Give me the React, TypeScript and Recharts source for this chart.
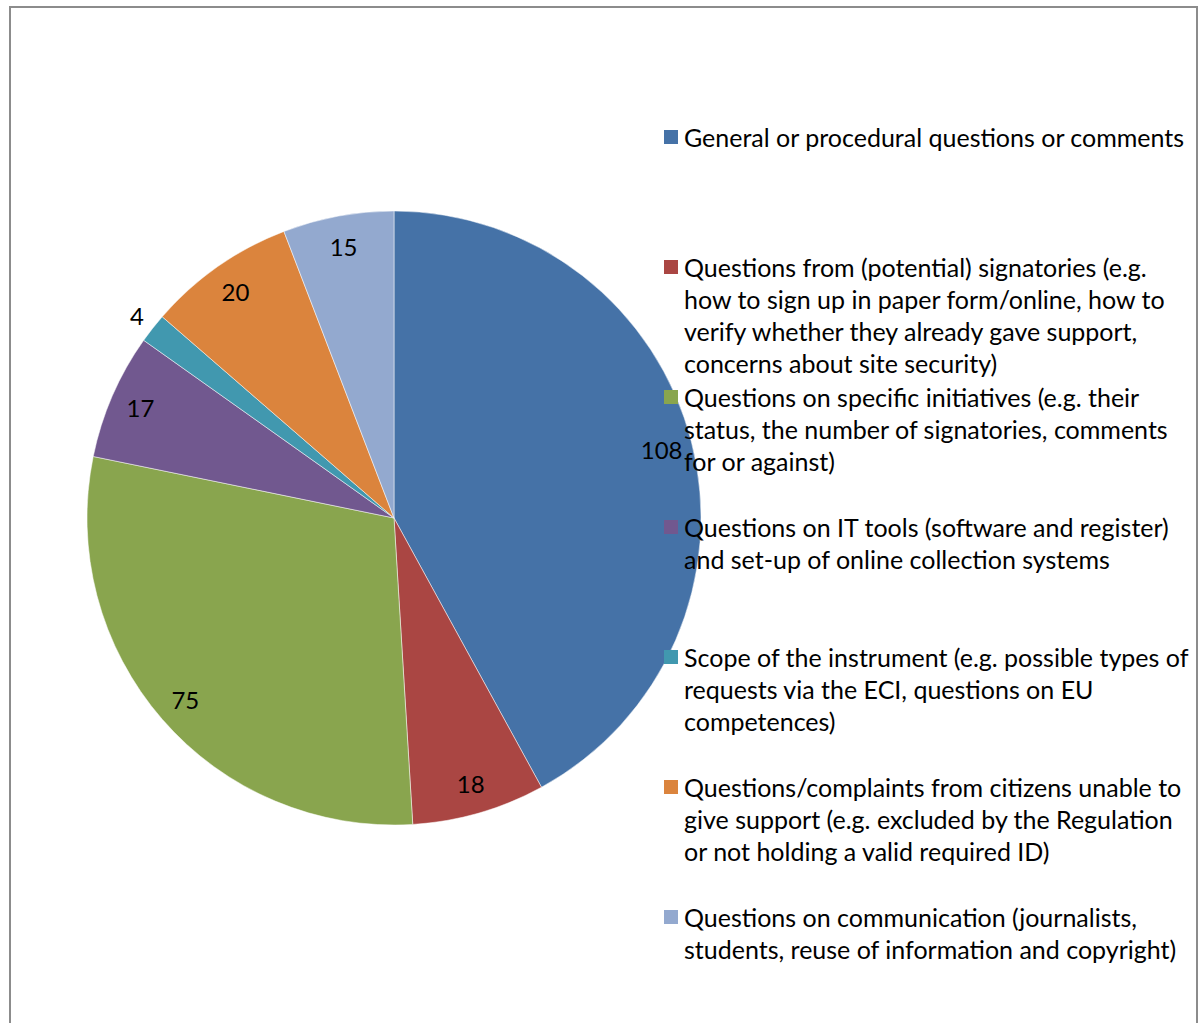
import React from "react"
import { PieChart, Pie, Cell, Legend } from "recharts"

const categories = [
    ["General or procedural questions or comments"],
    [
        "Questions from (potential) signatories (e.g.",
        "how to sign up in paper form/online, how to",
        "verify whether they already gave support,",
        "concerns about site security)",
    ],
    [
        "Questions on specific initiatives (e.g. their",
        "status, the number of signatories, comments",
        "for or against)",
    ],
    [
        "Questions on IT tools (software and register)",
        "and set-up of online collection systems",
    ],
    [
        "Scope of the instrument (e.g. possible types of",
        "requests via the ECI, questions on EU",
        "competences)",
    ],
    [
        "Questions/complaints from citizens unable to",
        "give support (e.g. excluded by the Regulation",
        "or not holding a valid required ID)",
    ],
    [
        "Questions on communication (journalists,",
        "students, reuse of information and copyright)",
    ],
]

const values = [108, 18, 75, 17, 4, 20, 15]

const colors = ["#4572A7", "#AA4643", "#89A54E", "#71588F", "#4198AF", "#DB843D", "#93A9CF"]

const data = values.map((v, i) => ({ name: categories[i].join(" "), value: v }))

const FONT = "Lato, 'Open Sans', sans-serif"
const RADIAN = Math.PI / 180

const renderLabel = (props: any) => {
    const { cx, cy, midAngle, outerRadius, value } = props
    const r = value < 10 ? outerRadius + 20 : outerRadius * 0.9
    const x = cx + r * Math.cos(-midAngle * RADIAN)
    const y = cy + r * Math.sin(-midAngle * RADIAN)
    return (
        <text x={x} y={y} fill="#000" fontSize={24} fontFamily={FONT} textAnchor="middle" dominantBaseline="central">
            {value}
        </text>
    )
}

const CustomLegend = () => (
    <div style={{ position: "relative", width: 530, height: 880 }}>
        {categories.map((lines, i) => (
            <div key={i} style={{ position: "absolute", left: 0, top: i * 130, display: "flex", alignItems: "flex-start" }}>
                <div style={{ width: 14, height: 14, background: colors[i], marginTop: 9, marginRight: 6 }} />
                <div style={{ fontSize: 25, lineHeight: "32px", fontFamily: FONT, color: "#000", whiteSpace: "nowrap" }}>
                    {lines.map((l, j) => (
                        <div key={j}>{l}</div>
                    ))}
                </div>
            </div>
        ))}
    </div>
)

export default function App() {
    return (
        <div
            style={{
                position: "absolute",
                left: 9,
                top: 6,
                width: 1185,
                height: 1017,
                border: "2px solid #8c8c8c",
                borderBottom: "none",
                background: "#fff",
                overflow: "hidden",
            }}
        >
            <PieChart width={1185} height={1017}>
                <Pie
                    data={data}
                    dataKey="value"
                    cx={378}
                    cy={505}
                    outerRadius={307}
                    startAngle={90}
                    endAngle={-270}
                    stroke="#fff"
                    strokeWidth={0.5}
                    label={renderLabel}
                    labelLine={false}
                    isAnimationActive={false}
                >
                    {data.map((d, i) => (
                        <Cell key={`cell-${i}`} fill={colors[i]} />
                    ))}
                </Pie>
                <Legend
                    content={<CustomLegend />}
                    wrapperStyle={{ position: "absolute", left: 653, top: 113, width: 530 }}
                />
            </PieChart>
        </div>
    )
}
